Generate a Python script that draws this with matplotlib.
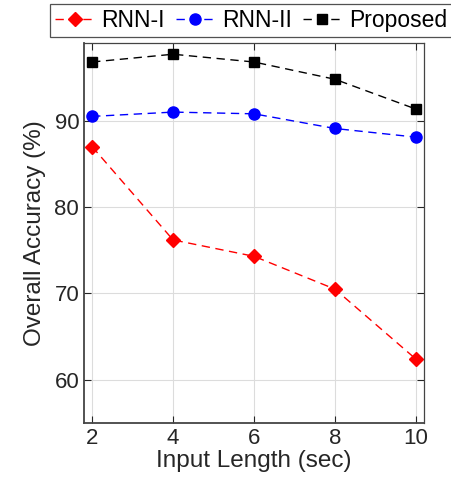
import matplotlib.pyplot as plt

plt.rcParams['font.family'] = ['Liberation Sans', 'DejaVu Sans']

input_len = [2, 4, 6, 8, 10]
rnn1 = [87.0, 76.2, 74.3, 70.5, 62.4]
rnn2 = [90.5, 91.0, 90.8, 89.1, 88.1]
proposed = [96.8, 97.7, 96.8, 94.8, 91.35]

txt = '#262626'

fig = plt.figure(figsize=(4.51, 4.86), dpi=100)
ax = fig.add_axes([84 / 451, 1 - 423 / 486, 340 / 451, 380 / 486])

ax.plot(input_len, rnn1, color='red', linestyle=(0, (6, 4)), lw=1,
        marker='D', ms=7, mfc='red', mec='red', label='RNN-I')
ax.plot(input_len, rnn2, color='blue', linestyle=(0, (6, 4)), lw=1,
        marker='o', ms=8, mfc='blue', mec='blue', label='RNN-II')
ax.plot(input_len, proposed, color='black', linestyle=(0, (6, 4)), lw=1,
        marker='s', ms=6.5, mfc='black', mec='black', label='Proposed')

ax.set_xlim(1.8, 10.2)
ax.set_ylim(55, 99)
ax.set_xticks(input_len)
ax.set_yticks([60, 70, 80, 90])
ax.grid(True, color='#dcdcdc', lw=0.8)
ax.set_axisbelow(True)
ax.tick_params(direction='in', top=True, right=True, labelsize=16,
               colors=txt, length=5, width=0.8)
for s in ax.spines.values():
    s.set_color('#444444')
    s.set_linewidth(0.9)
for s in ['left', 'bottom']:
    ax.spines[s].set_linewidth(1.3)

ax.set_xlabel('Input Length (sec)', fontsize=17.5, color=txt, labelpad=1)
ax.set_ylabel('Overall Accuracy (%)', fontsize=17.5, color=txt, labelpad=6)

leg = ax.legend(loc='center', bbox_to_anchor=(251 / 451, 1 - 20.5 / 486),
                bbox_transform=fig.transFigure, ncol=3, fontsize=16.5,
                frameon=True, fancybox=False, edgecolor='#262626',
                handlelength=1.7, handletextpad=0.3, columnspacing=0.5,
                borderpad=0.22, borderaxespad=0)
leg.get_frame().set_linewidth(0.9)
for t in leg.get_texts():
    t.set_color('black')

fig.savefig('out.png', dpi=100)
